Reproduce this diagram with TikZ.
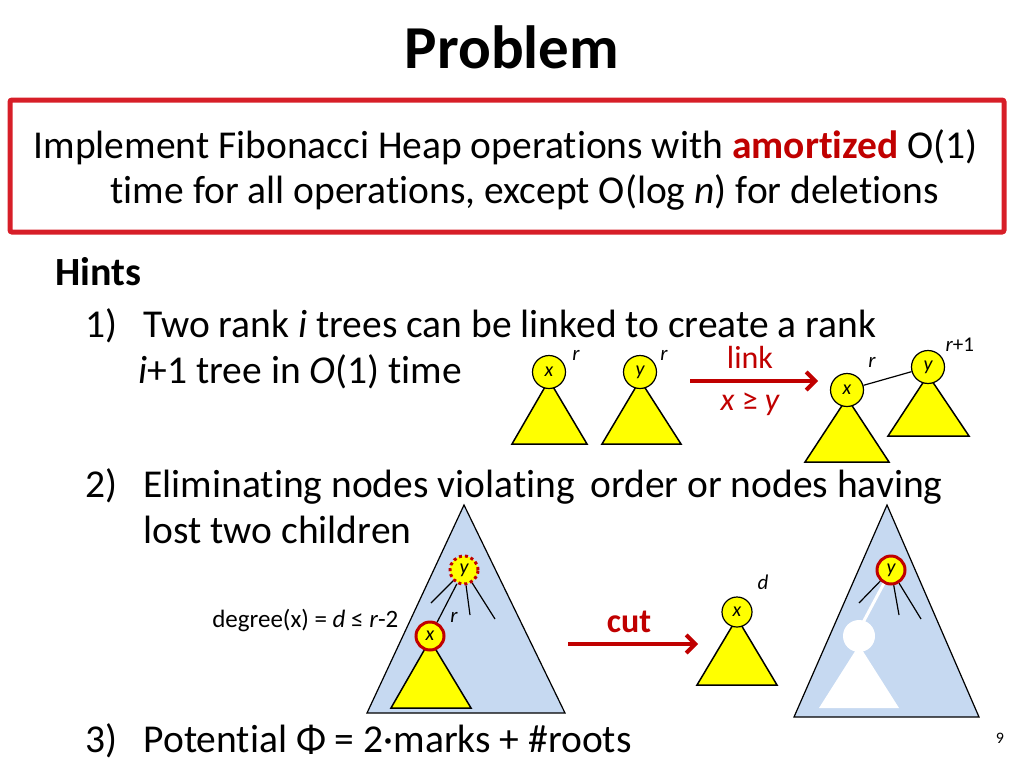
\documentclass[tikz,border=0pt]{standalone}
\usepackage{fontspec}
\usetikzlibrary{arrows.meta}
\setmainfont{Carlito}[Ligatures=NoCommon]
\definecolor{darkred}{RGB}{192,0,0}
\definecolor{boxred}{RGB}{215,30,40}
\definecolor{lightblue}{RGB}{198,217,241}
\definecolor{treeyellow}{RGB}{255,255,0}
\tikzset{
  heapnode/.style={circle,draw,fill=treeyellow,minimum size=30pt,inner sep=0pt,font=\fontsize{20}{20}\selectfont\itshape},
  tree/.style={draw,fill=treeyellow,line width=1.5pt},
  txt/.style={anchor=base west,inner sep=0pt,font=\fontsize{39.5}{40}\selectfont},
  small/.style={inner sep=0pt,font=\fontsize{21}{21}\selectfont\itshape}
}
\begin{document}
\begin{tikzpicture}[x=1pt,y=-1pt,line width=1.2pt]
\useasboundingbox (0,0) rectangle (1024,768);

% title and box
\node[font=\fontsize{61}{61}\selectfont\bfseries] (title) at (512,47) {Problem};
\draw[boxred,line width=5pt,rounded corners=2pt] (10,100) rectangle (1004,232);
\node[txt] (line1) at (33,158) {Implement Fibonacci Heap operations with \textcolor{darkred}{\bfseries amortized} O(1)};
\node[txt] (line2) at (110,203) {time for all operations, except O(log \textit{n}) for deletions};

% hints
\node[txt,font=\fontsize{40}{40}\selectfont\bfseries] (hints) at (55,285) {Hints};
\node[txt] (one) at (85,337) {1)};
\node[txt] (onet) at (143,337) {Two rank \textit{i} trees can be linked to create a rank};
\node[txt] (onea) at (138,383) {\textit{i}+1 tree in \textit{O}(1) time};

% link
\draw[tree] (549,380) -- (512,444) -- (587,444) -- cycle;
\draw[tree] (640,380) -- (602,444) -- (681,444) -- cycle;
\node[heapnode,minimum size=33pt] (x1) at (549,372) {x};
\node[heapnode,minimum size=33pt] (y1) at (640,372) {y};
\node[small] (r1) at (576,355) {r};
\node[small] (r2) at (664,355) {r};
\coordinate (la) at (690,381);
\coordinate (lb) at (818,381);
\draw[darkred,line width=4pt,-{Straight Barb[length=9pt,width=18pt]}] (la) -- (lb);
\node[darkred,font=\fontsize{32}{32}\selectfont] (link) at (750,357) {link};
\node[darkred,font=\fontsize{32}{32}\selectfont\itshape] (cond) at (750,404) {x \upshape≥\itshape\ y};
\draw[tree] (928,375) -- (888,436) -- (969,436) -- cycle;
\draw[tree] (847,398) -- (805,462) -- (889,462) -- cycle;
\node[heapnode,minimum size=33pt] (y2) at (928,367) {y};
\node[heapnode,minimum size=33pt] (x2) at (847,390) {x};
\draw (x2) -- (y2);
\node[small] (r3) at (872,362) {r};
\node[small,anchor=west] (r4) at (945,345) {r\upshape+1};

% cut
\node[txt] (two) at (85,497) {2)};
\node[txt] (twot) at (143,497) {Eliminating nodes violating\, order or nodes having};
\node[txt] (twoa) at (143,543) {lost two children};
\draw[fill=lightblue] (464,505) -- (367,713) -- (565,713) -- cycle;
\draw[tree] (430,640) -- (391,708) -- (471,708) -- cycle;
\node[heapnode,minimum size=28pt,draw=darkred,dashed,line width=3pt] (y3) at (464,570) {y};
\node[heapnode,minimum size=28pt,draw=darkred,line width=3pt] (x3) at (430,636) {x};
\coordinate (c1) at (431,603);
\coordinate (c2) at (470,615);
\coordinate (c3) at (495,619);
\foreach \c in {c1,c2,c3} \draw (y3) -- (\c);
\draw (y3) -- (x3);
\node[small] (r5) at (454,617) {r};
\node[anchor=east,inner sep=0pt,font=\fontsize{25}{25}\selectfont] (deg) at (399,620) {degree(x) = \textit{d} ≤ \textit{r}-2};
\coordinate (ca) at (568,644);
\coordinate (cb) at (698,644);
\draw[darkred,line width=4pt,-{Straight Barb[length=9pt,width=18pt]}] (ca) -- (cb);
\node[darkred,font=\fontsize{34}{34}\selectfont\bfseries] (cut) at (629,622) {cut};
\draw[tree] (737,618) -- (697,685) -- (777,685) -- cycle;
\node[heapnode,minimum size=30pt] (x4) at (737,612) {x};
\node[small] (d) at (763,582) {d};
\draw[fill=lightblue] (887,505) -- (794,717) -- (979,717) -- cycle;
\fill[white] (859,636) circle (16pt);
\fill[white] (859,645) -- (819,708) -- (899,708) -- cycle;
\node[heapnode,minimum size=28pt,draw=darkred,line width=3pt] (y4) at (891,570) {y};
\draw[white,line width=3pt] (y4) -- (859,630);
\coordinate (e1) at (859,603);
\coordinate (e2) at (899,615);
\coordinate (e3) at (921,619);
\foreach \e in {e1,e2,e3} \draw (y4) -- (\e);

% potential
\node[txt] (three) at (85,752) {3)};
\node[txt] (threet) at (143,752) {Potential Φ = 2·marks + \#roots};
\node[font=\fontsize{16}{16}\selectfont] (page) at (1000,738) {9};
\end{tikzpicture}
\end{document}
